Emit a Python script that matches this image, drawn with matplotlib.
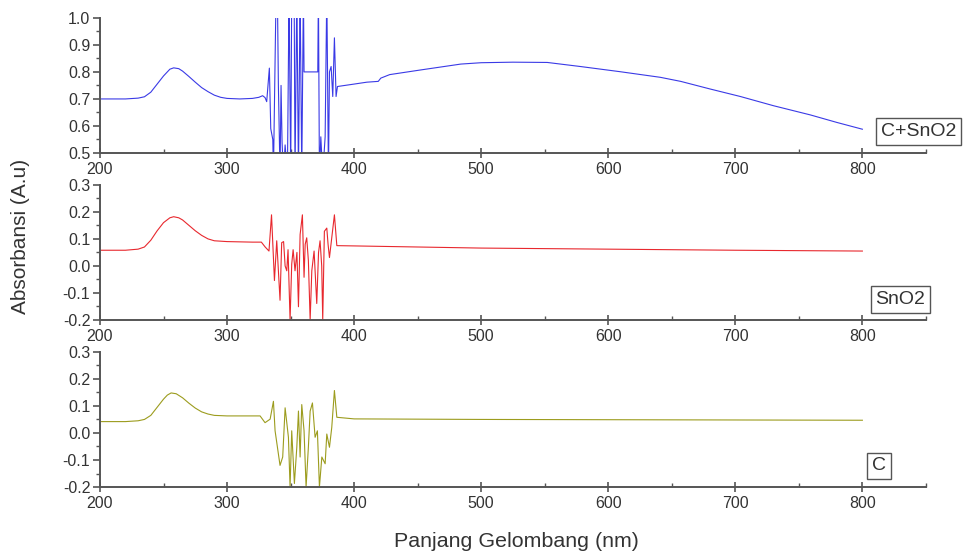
import numpy as np
import matplotlib.pyplot as plt
from matplotlib.ticker import MultipleLocator, FormatStrFormatter

plt.rcParams['font.family'] = ['Liberation Sans', 'DejaVu Sans']

# ---------------------------------------------------------
# Data (wavelength nm, absorbance)
# ---------------------------------------------------------
wl_csno2 = [200, 210, 220, 230, 235, 240, 245, 250, 255, 258, 262, 265, 270, 275,
            280, 285, 290, 295, 300, 310, 320, 325, 328, 329.9, 331.2, 333.3, 334.4,
            336, 336.5, 338.6, 339.6, 340.4, 341.7, 342.5, 343.3, 344.4, 345.7,
            347.5, 348.8, 350.1, 350.9, 352.8, 353.5, 354.9, 356.2, 357.5, 358.8,
            360.1, 360.6, 371.4, 371.9, 372.7, 373.8, 375.3, 377.2, 378.5, 379.8,
            380.6, 381.9, 383.2, 384.5, 385.8, 386.9, 400, 410, 419, 421, 428,
            452, 484, 500, 525, 552, 578, 609, 641, 657, 680, 704, 730, 759, 780, 800]
ab_csno2 = [0.700, 0.700, 0.700, 0.703, 0.708, 0.725, 0.755, 0.785, 0.810, 0.815,
            0.812, 0.803, 0.783, 0.762, 0.742, 0.727, 0.714, 0.706, 0.702, 0.700,
            0.702, 0.706, 0.712, 0.705, 0.690, 0.814, 0.590, 0.550, 0.420, 1.100,
            1.100, 0.750, 0.420, 0.750, 0.540, 0.420, 0.530, 0.420, 1.100, 0.420,
            1.100, 1.100, 0.420, 1.100, 0.420, 1.100, 0.420, 1.100, 0.800, 0.800,
            1.100, 0.420, 0.560, 0.420, 0.560, 1.100, 0.420, 0.800, 0.820, 0.709,
            0.926, 0.709, 0.746, 0.755, 0.762, 0.765, 0.777, 0.790, 0.807, 0.829,
            0.834, 0.836, 0.835, 0.820, 0.801, 0.780, 0.765, 0.737, 0.709, 0.675,
            0.641, 0.613, 0.588]

wl_sno2 = [200, 220, 230, 235, 240, 245, 250, 255, 258, 262, 265, 270, 275, 280,
           285, 290, 300, 310, 320, 327, 330, 333, 335, 337.3, 339.1, 341.7, 343,
           344.5, 345.7, 347, 348, 349.6, 350.9, 352, 353.5, 355, 356.2, 357.5,
           359.3, 360.6, 361.5, 362.7, 364, 365.4, 366.7, 368.5, 370.6, 372, 373.2,
           374.5, 375.3, 376.6, 378.5, 379.5, 380.6, 382.4, 384.5, 386.4, 400, 450,
           500, 600, 700, 800]
ab_sno2 = [0.058, 0.058, 0.062, 0.070, 0.095, 0.130, 0.160, 0.178, 0.182, 0.178,
           0.170, 0.150, 0.130, 0.113, 0.100, 0.093, 0.090, 0.089, 0.088, 0.088,
           0.070, 0.055, 0.189, -0.054, 0.093, -0.127, 0.086, 0.090, 0.000, -0.018,
           0.060, -0.200, 0.007, 0.060, -0.018, 0.050, -0.151, 0.116, 0.189, -0.042,
           0.080, 0.104, 0.020, -0.200, -0.018, 0.055, -0.139, 0.050, 0.093, 0.000,
           -0.200, 0.128, 0.140, 0.080, 0.031, 0.104, 0.189, 0.075, 0.074, 0.070,
           0.066, 0.062, 0.058, 0.055]

wl_c = [200, 220, 230, 235, 240, 245, 250, 253, 256, 260, 265, 270, 275, 280, 285,
        290, 300, 310, 320, 326, 329.9, 333.9, 336.5, 337.8, 341.7, 343.8, 345.7,
        348.3, 349.6, 350.9, 353, 354.9, 356.2, 357.5, 358.8, 360.6, 362.2, 364,
        365.4, 367.2, 369.3, 371.1, 372.7, 374.6, 377.2, 378.5, 380.6, 382.4,
        384.5, 386.4, 400, 500, 600, 700, 800]
ab_c = [0.042, 0.042, 0.045, 0.050, 0.065, 0.095, 0.125, 0.140, 0.148, 0.145, 0.130,
        0.110, 0.092, 0.078, 0.070, 0.065, 0.063, 0.063, 0.063, 0.063, 0.038, 0.051,
        0.117, 0.008, -0.120, -0.089, 0.093, -0.016, -0.200, 0.008, -0.187, -0.053,
        0.081, -0.089, 0.105, 0.008, -0.200, -0.053, 0.081, 0.111, -0.016, 0.008,
        -0.200, -0.089, -0.114, -0.004, -0.053, 0.020, 0.157, 0.058, 0.052, 0.050,
        0.049, 0.048, 0.047]

series = [
    ('C+SnO2', wl_csno2, ab_csno2, '#3a3ae6', (0.5, 1.0)),
    ('SnO2', wl_sno2, ab_sno2, '#e8282e', (-0.2, 0.3)),
    ('C', wl_c, ab_c, '#9c9c1e', (-0.2, 0.3)),
]

# ---------------------------------------------------------
# Figure: three stacked panels, Origin-like style
# ---------------------------------------------------------
fig = plt.figure(figsize=(9.66, 5.54), dpi=100)
left, width = 0.1035, 0.855
bottoms = [0.7238, 0.4224, 0.1209]
height = 0.2440
label_pos = [(0.990, 0.762), (0.958, 0.460), (0.917, 0.159)]

for i, (name, wl, ab, col, ylim) in enumerate(series):
    ax = fig.add_axes([left, bottoms[i], width, height])
    ax.plot(wl, ab, color=col, lw=0.8)
    ax.set_xlim(200, 850)
    ax.set_ylim(*ylim)
    for s in ['top', 'right']:
        ax.spines[s].set_visible(False)
    for s in ['left', 'bottom']:
        ax.spines[s].set_color('#555555')
        ax.spines[s].set_linewidth(1.4)
    ax.xaxis.set_minor_locator(MultipleLocator(50))
    ax.yaxis.set_major_locator(MultipleLocator(0.1))
    ax.yaxis.set_minor_locator(MultipleLocator(0.05))
    ax.yaxis.set_major_formatter(FormatStrFormatter('%.1f'))
    ax.set_xticks(np.arange(200, 801, 100))
    ax.tick_params(axis='x', which='major', direction='inout', length=7, width=1.2,
                   colors='#555555', labelcolor='#333333', labelsize=11.5, pad=3)
    ax.tick_params(axis='x', which='minor', direction='in', length=3, width=1.0,
                   colors='#555555')
    ax.tick_params(axis='y', which='major', direction='out', length=5, width=1.2,
                   colors='#555555', labelcolor='#333333', labelsize=11.5, pad=2)
    ax.tick_params(axis='y', which='minor', direction='out', length=3, width=1.0,
                   colors='#555555')
    fig.text(label_pos[i][0], label_pos[i][1], name, ha='right', va='center',
             fontsize=14, color='#333333',
             bbox=dict(boxstyle='square,pad=0.25', fc='white', ec='#555555', lw=1.0))

fig.text(0.021, 0.574, 'Absorbansi (A.u)', rotation=90, ha='center', va='center',
         fontsize=15, color='#333333')
fig.text(0.535, 0.022, 'Panjang Gelombang (nm)', ha='center', va='center',
         fontsize=15.4, color='#333333')

fig.savefig('out.png', dpi=100)
